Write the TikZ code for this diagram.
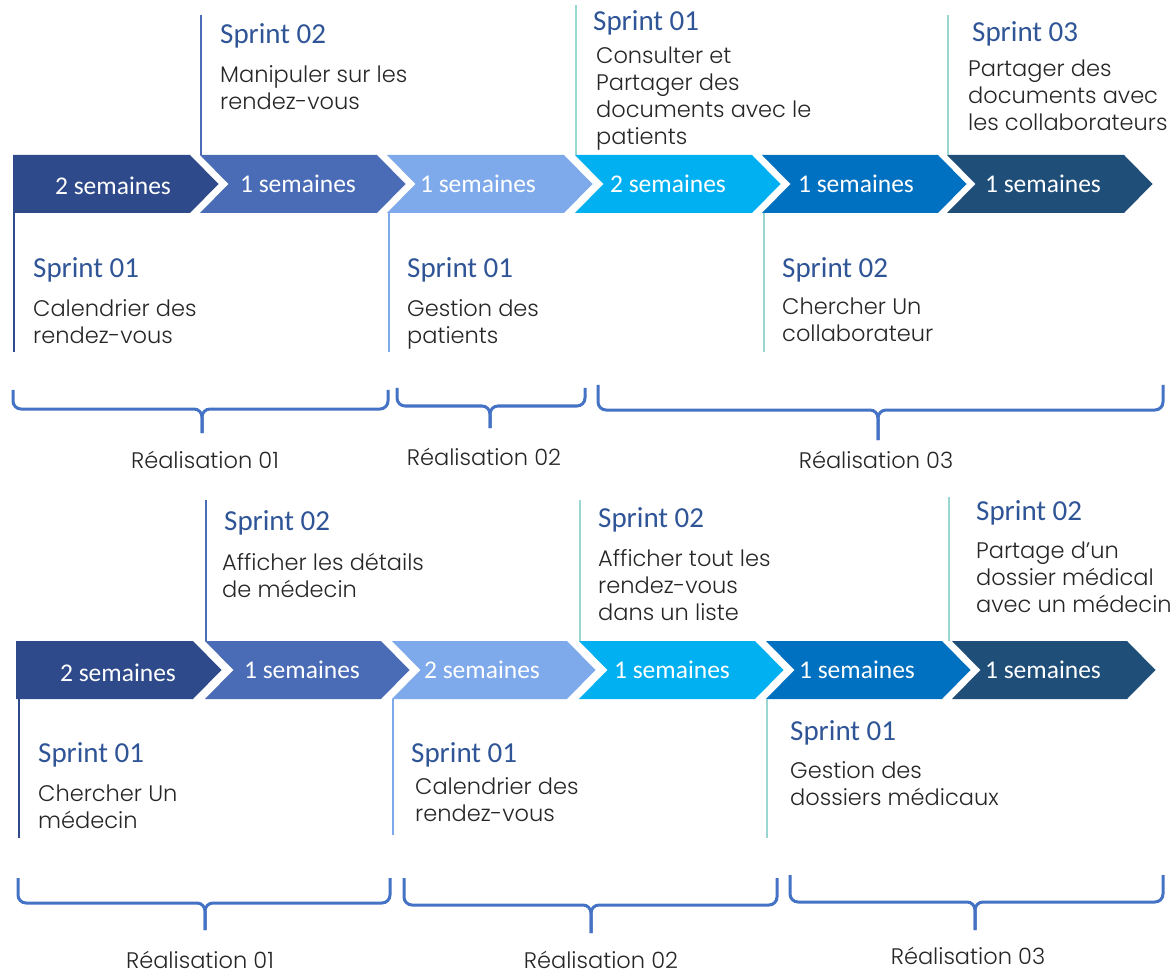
\documentclass[tikz,border=0pt]{standalone}
\usepackage{fontspec}
\setmainfont{Carlito}
\newfontfamily\carl{Carlito}
\IfFontExistsTF{Poppins Light}{\newfontfamily\bodyf{Poppins Light}}{\newfontfamily\bodyf{Poppins}}
\definecolor{cA}{HTML}{2F4A8A}
\definecolor{cB}{HTML}{4A6BB5}
\definecolor{cC}{HTML}{7EA9EA}
\definecolor{cD}{HTML}{00B0F0}
\definecolor{cE}{HTML}{0070C0}
\definecolor{cF}{HTML}{1F4E79}
\definecolor{sprintc}{HTML}{2F5597}
\definecolor{tealc}{HTML}{9AD6D2}
\definecolor{bracec}{HTML}{4472C4}
\definecolor{bodyc}{HTML}{262626}
\newcommand\chevshape[4]{\fill[#4] ({#1},{#3-29}) -- ({#2},{#3-29}) -- ({#2+28.5},{#3}) -- ({#2},{#3+29}) -- ({#1},{#3+29}) -- ({#1+28.5},{#3}) -- cycle;}
\newcommand\chevfirst[4]{\fill[#4] ({#1},{#3-29}) -- ({#2},{#3-29}) -- ({#2+28.5},{#3}) -- ({#2},{#3+29}) -- ({#1},{#3+29}) -- cycle;}
\newcommand\realbrace[6]{%
  \draw[bracestyle] ({#1},{#4}) -- ({#1},{#5}) -- ({#3},{#5}) -- ({#3},{#6});
  \draw[bracestyle] ({#2},{#4}) -- ({#2},{#5}) -- ({#3},{#5}) -- ({#3},{#6});}
\begin{document}
\begin{tikzpicture}[x=1pt,y=-1pt,
  weektext/.style={text=white,font=\carl\fontsize{25.5}{28}\selectfont,inner sep=0pt},
  sprinthead/.style={text=sprintc,font=\carl\fontsize{29}{32}\selectfont,anchor=west,inner sep=0pt},
  bodytext/.style={text=bodyc,font=\bodyf\fontsize{22.5}{27}\selectfont,anchor=north west,align=left,inner sep=0pt},
  reallabel/.style={text=bodyc,font=\bodyf\fontsize{22.5}{26}\selectfont,inner sep=0pt},
  bracestyle/.style={draw=bracec,line width=3pt,rounded corners=8pt},
  vline/.style={line width=2.2pt}]
\useasboundingbox[fill=white] (0,0) rectangle (1176,976);

% ---------------- Row 1 chevrons ----------------
\chevfirst{13}{190}{184}{cA}
\chevshape{200}{377}{184}{cB}
\chevshape{387}{564}{184}{cC}
\chevshape{575}{752}{184}{cD}
\chevshape{762}{938}{184}{cE}
\chevshape{947}{1124}{184}{cF}
\node[weektext] (w11) at (113,186) {2 semaines};
\node[weektext] (w12) at (298,184) {1 semaines};
\node[weektext] (w13) at (478,184) {1 semaines};
\node[weektext] (w14) at (668,184) {2 semaines};
\node[weektext] (w15) at (856,184) {1 semaines};
\node[weektext] (w16) at (1043,184) {1 semaines};

% vertical lines row 1
\draw[vline,cB] (201,15) -- (201,155);
\draw[vline,tealc] (576,5) -- (576,155);
\draw[vline,tealc] (948,15) -- (948,155);
\draw[vline,cA] (14,213) -- (14,352);
\draw[vline,cC] (389,213) -- (389,352);
\draw[vline,tealc] (764,213) -- (764,352);

% texts row 1 top
\node[sprinthead] (h12) at (220,36) {Sprint 02};
\node[bodytext] (t12) at (220,65) {Manipuler sur les\\rendez-vous};
\node[sprinthead] (h14) at (593,23) {Sprint 01};
\node[bodytext] (t14) at (596,47) {Consulter et\\Partager des\\documents avec le\\patients};
\node[sprinthead] (h16) at (972,34) {Sprint 03};
\node[bodytext] (t16) at (968,60) {Partager des\\documents avec\\les collaborateurs};
% texts row 1 bottom
\node[sprinthead] (h11) at (33,270) {Sprint 01};
\node[bodytext] (t11) at (33,299) {Calendrier des\\rendez-vous};
\node[sprinthead] (h13) at (407,270) {Sprint 01};
\node[bodytext] (t13) at (407,299) {Gestion des\\patients};
\node[sprinthead] (h15) at (782,270) {Sprint 02};
\node[bodytext] (t15) at (782,298) {Chercher Un\\collaborateur};

% braces row 1
\realbrace{13}{388}{202}{390}{409}{433}
\realbrace{397}{585}{490}{388}{406}{428}
\realbrace{598}{1163}{878}{385}{410}{440}
\node[reallabel] (r11) at (205,460) {Réalisation 01};
\node[reallabel] (r12) at (484,457) {Réalisation 02};
\node[reallabel] (r13) at (876,460) {Réalisation 03};

% ---------------- Row 2 chevrons ----------------
\chevfirst{16}{193}{670}{cA}
\chevshape{205}{381}{670}{cB}
\chevshape{392}{567}{670}{cC}
\chevshape{579}{755}{670}{cD}
\chevshape{766}{942}{670}{cE}
\chevshape{952}{1127}{670}{cF}
\node[weektext] (w21) at (118,673) {2 semaines};
\node[weektext] (w22) at (302,670) {1 semaines};
\node[weektext] (w23) at (482,670) {2 semaines};
\node[weektext] (w24) at (672,670) {1 semaines};
\node[weektext] (w25) at (857,670) {1 semaines};
\node[weektext] (w26) at (1043,670) {1 semaines};

% vertical lines row 2
\draw[vline,cB] (206,500) -- (206,641);
\draw[vline,tealc] (580,500) -- (580,641);
\draw[vline,tealc] (949,497) -- (949,641);
\draw[vline,cA] (19,699) -- (19,838);
\draw[vline,cC] (393,699) -- (393,835);
\draw[vline,tealc] (767,699) -- (767,838);

% texts row 2 top
\node[sprinthead] (h22) at (224,523) {Sprint 02};
\node[bodytext] (t22) at (222,553) {Afficher les détails\\de médecin};
\node[sprinthead] (h24) at (598,520) {Sprint 02};
\node[bodytext] (t24) at (598,549) {Afficher tout les\\rendez-vous\\dans un liste};
\node[sprinthead] (h26) at (976,513) {Sprint 02};
\node[bodytext] (t26) at (976,542) {Partage d’un\\dossier médical\\avec un médecin};
% texts row 2 bottom
\node[sprinthead] (h21) at (38,755) {Sprint 01};
\node[bodytext] (t21) at (38,785) {Chercher Un\\médecin};
\node[sprinthead] (h23) at (411,755) {Sprint 01};
\node[bodytext] (t23) at (415,777) {Calendrier des\\rendez-vous};
\node[sprinthead] (h25) at (790,733) {Sprint 01};
\node[bodytext] (t25) at (790,761) {Gestion des\\dossiers médicaux};

% braces row 2
\realbrace{18}{390}{205}{878}{903}{930}
\realbrace{404}{777}{591}{878}{905}{933}
\realbrace{790}{1163}{975}{875}{902}{930}
\node[reallabel] (r21) at (200,960) {Réalisation 01};
\node[reallabel] (r22) at (601,960) {Réalisation 02};
\node[reallabel] (r23) at (968,956) {Réalisation 03};
\end{tikzpicture}
\end{document}
